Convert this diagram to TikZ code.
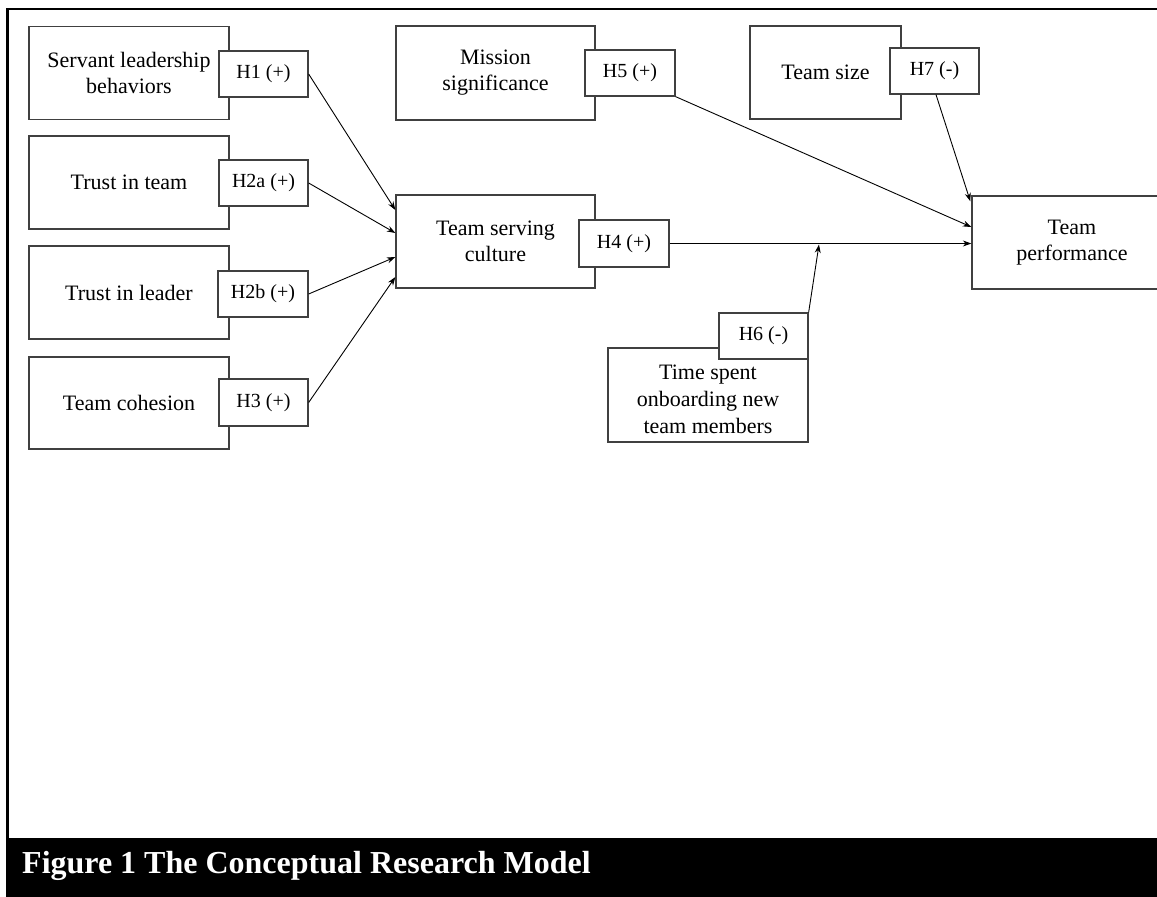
\documentclass[tikz,border=0pt]{standalone}
\usepackage{fontspec}
\setmainfont{Liberation Serif}
\usetikzlibrary{arrows.meta,calc}
\begin{document}
\begin{tikzpicture}[x=1pt,y=-1pt,
  box/.style={draw=black!75, line width=1.3pt, inner sep=0pt, align=center,
    minimum width=200pt, minimum height=93pt, font=\fontsize{22}{26}\selectfont},
  hyp/.style={draw=black!75, line width=1.3pt, fill=white, inner sep=0pt, align=center,
    minimum width=89pt, minimum height=46pt, font=\fontsize{20}{24}\selectfont},
  link/.style={line width=0.9pt, -{Stealth[length=8.5pt,width=6pt]}}]
\useasboundingbox (0,0) rectangle (1157,897);
% frame and caption bar
\draw[line width=2.5pt] (7.5,9) rectangle (1170,839);
\fill[black] (6,839) rectangle (1170,905);
\node[anchor=base west, text=white, inner sep=0pt, font=\bfseries\fontsize{32}{36}\selectfont] (cap) at (22,873) {Figure 1 The Conceptual Research Model};
% main boxes
\node[box] (sl) at (129,73) {Servant leadership\\behaviors};
\node[box] (tt) at (129,182.5) {Trust in team};
\node[box] (tl) at (129,292.5) {Trust in leader};
\node[box, minimum height=92pt] (tc) at (129,403) {Team cohesion};
\node[box, minimum width=199pt] (tsc) at (495.5,241.5) {Team serving\\culture};
\node[box, minimum width=199pt, minimum height=94pt] (ms) at (495.5,73) {Mission\\significance};
\node[box, minimum width=151pt] (ts) at (825.5,72.5) {Team size};
\node[box] (tp) at (1072,242.5) {Team\\performance};
\node[box, minimum height=94pt, font=\fontsize{22}{27}\selectfont] (time) at (708,395) {\rule{0pt}{24pt}Time spent\\onboarding new\\team members};
% hypothesis labels
\node[hyp] (h1) at (263.5,74) {H1 (+)};
\node[hyp] (h2a) at (263.5,183) {H2a (+)};
\node[hyp, minimum width=90pt] (h2b) at (263,294) {H2b (+)};
\node[hyp, minimum height=47pt] (h3) at (263.5,402.5) {H3 (+)};
\node[hyp, minimum width=90pt, minimum height=47pt] (h4) at (624,243.5) {H4 (+)};
\node[hyp, minimum width=90pt] (h5) at (630,73) {H5 (+)};
\node[hyp] (h6) at (763.5,336) {H6 (-)};
\node[hyp] (h7) at (934.5,71) {H7 (-)};
% connectors
\draw[link] (h1.east) -- ([yshift=31.5pt]tsc.west);
\draw[link] (h2a.east) -- ([yshift=8.5pt]tsc.west);
\draw[link] (h2b.east) -- ([yshift=-15.5pt]tsc.west);
\draw[link] (h3.east) -- ([yshift=-35.5pt]tsc.west);
\draw[link] (h4.east) -- (h4.east -| tp.west);
\draw[link] (h5.south east) -- ([yshift=15.5pt]tp.west);
\draw[link] ([xshift=1.5pt]h7.south) -- ([yshift=-6pt,xshift=-1pt]tp.north west);
\coordinate (mod) at (819,244.5);
\draw[link] (h6.north east) -- (mod);
\end{tikzpicture}
\end{document}
